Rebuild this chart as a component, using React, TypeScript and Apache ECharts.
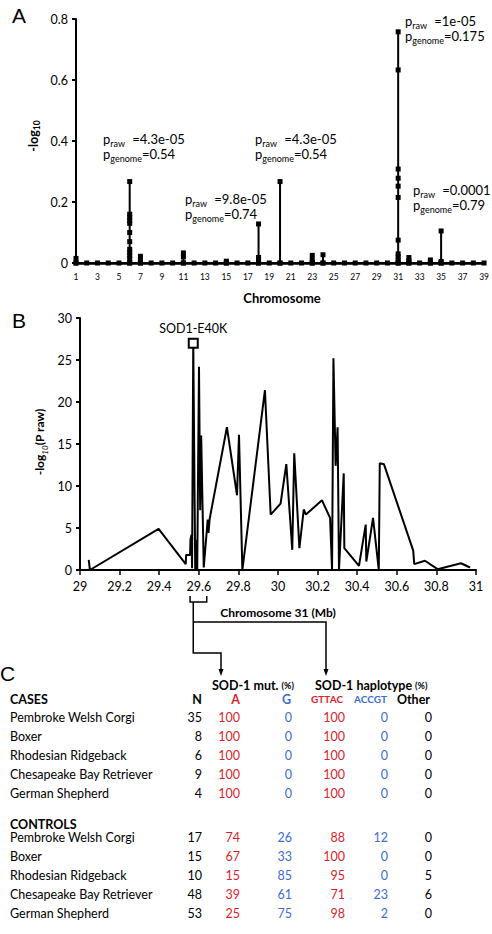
import React, { useEffect, useRef } from "react";
import * as echarts from "echarts";

// ---------------- Panel A data ----------------
const chromosomes = [
  1, 2, 3, 4, 5, 6, 7, 8, 9, 10, 11, 12, 13, 14, 15, 16, 17, 18, 19, 20,
  21, 22, 23, 24, 25, 26, 27, 28, 29, 30, 31, 32, 33, 34, 35, 36, 37, 38, 39,
];
const peakChromosomes = [1, 6, 7, 11, 15, 18, 20, 23, 24, 31, 32, 34, 35];
const peakValues: number[][] = [
  [0.015],
  [0.015, 0.025, 0.035, 0.045, 0.07, 0.1, 0.13, 0.14, 0.15, 0.16, 0.267],
  [0.01, 0.022],
  [0.02, 0.033],
  [0.006],
  [0.01, 0.018, 0.128],
  [0.267],
  [0.01, 0.025],
  [0.027],
  [0.01, 0.02, 0.03, 0.075, 0.215, 0.252, 0.278, 0.308, 0.633, 0.758],
  [0.008, 0.018],
  [0.01],
  [0.005, 0.105],
];
const annotationRaw = ["4.3e-05", "9.8e-05", "4.3e-05", "1e-05", "0.0001"];
const annotationGenome = ["0.54", "0.74", "0.54", "0.175", "0.79"];

// ---------------- Panel B data ----------------
const chr31Mb = [
  29.044, 29.05, 29.397, 29.534, 29.536, 29.556, 29.558, 29.563, 29.566, 29.572,
  29.582, 29.588, 29.592, 29.601, 29.607, 29.612, 29.625, 29.645, 29.649, 29.655,
  29.742, 29.793, 29.803, 29.82, 29.934, 29.963, 30.013, 30.042, 30.072, 30.082,
  30.108, 30.13, 30.141, 30.222, 30.263, 30.273, 30.28, 30.291, 30.301, 30.308,
  30.332, 30.335, 30.409, 30.443, 30.446, 30.48, 30.509, 30.514, 30.535, 30.683,
  30.688, 30.742, 30.806, 30.924, 30.97,
];
const chr31NegLogP = [
  1.2, 0, 4.9, 0.7, 1.8, 1.8, 3.6, 4.2, 0.2, 27.0,
  0, 3.6, 0, 24.2, 7.1, 16.0, 0.3, 6.0, 4.4, 6.1,
  17.0, 8.9, 16.1, 0, 21.4, 6.6, 7.9, 12.6, 2.4, 13.9,
  2.6, 7.2, 6.6, 8.3, 6.2, 0, 25.2, 12.4, 17.0, 0,
  11.5, 2.6, 0.5, 5.4, 1.0, 6.2, 0, 12.7, 12.6, 2.3,
  0.7, 1.1, 0.1, 0.8, 0.3,
];
const sod1Label = "SOD1-E40K";
const sod1Mb = 29.572;
const sod1Value = 27.0;
const bracketStartMb = 29.556;
const bracketEndMb = 29.64;

// ---------------- Panel C data ----------------
const breeds = [
  "Pembroke Welsh Corgi",
  "Boxer",
  "Rhodesian Ridgeback",
  "Chesapeake Bay Retriever",
  "German Shepherd",
];
const columnHeaders = ["N", "A", "G", "GTTAC", "ACCGT", "Other"];
const casesN = [35, 8, 6, 9, 4];
const casesA = [100, 100, 100, 100, 100];
const casesG = [0, 0, 0, 0, 0];
const casesGTTAC = [100, 100, 100, 100, 100];
const casesACCGT = [0, 0, 0, 0, 0];
const casesOther = [0, 0, 0, 0, 0];
const controlsN = [17, 15, 10, 48, 53];
const controlsA = [74, 67, 15, 39, 25];
const controlsG = [26, 33, 85, 61, 75];
const controlsGTTAC = [88, 100, 95, 71, 98];
const controlsACCGT = [12, 0, 0, 23, 2];
const controlsOther = [0, 0, 5, 6, 0];

// ---------------- Styling / layout ----------------
const FONT = "Lato, 'Open Sans', sans-serif";
const PANEL_FONT = "'Liberation Sans', Arial, sans-serif";
const RED = "#dc1e2a";
const BLUE = "#3d6bd6";
const colColors = ["#000", RED, BLUE, RED, BLUE, "#000"];
const colRight = [202, 240, 292, 345, 388, 432];
const headerRight = [202, 240, 291, 343, 387, 430];
const annPos = [
  [103, 140],
  [185, 200],
  [255, 140],
  [405, 22],
  [413, 191],
];

const subRich = {
  p: { fontSize: 13, lineHeight: 16, verticalAlign: "top", fontFamily: FONT },
  r: { fontSize: 9, lineHeight: 10, verticalAlign: "bottom", fontFamily: FONT, width: 22 },
  g: { fontSize: 9, lineHeight: 10, verticalAlign: "bottom", fontFamily: FONT },
};

function buildOption() {
  const seriesA: number[][] = [];
  chromosomes.forEach((c) => {
    seriesA.push([c, 0]);
    const idx = peakChromosomes.indexOf(c);
    if (idx >= 0) {
      peakValues[idx].forEach((v) => seriesA.push([c, v]));
      seriesA.push([c, 0]);
    }
  });
  const seriesB = chr31Mb.map((x, i) => [x, chr31NegLogP[i]]);

  const axisText = { color: "#000", fontFamily: FONT };
  return {
    animation: false,
    backgroundColor: "#fff",
    grid: [
      { left: 76, top: 19, width: 411, height: 244 },
      { left: 80, top: 318, width: 396, height: 252 },
    ],
    xAxis: [
      {
        type: "value",
        gridIndex: 0,
        min: 1,
        max: 39,
        interval: 2,
        axisLine: { show: true, lineStyle: { color: "#000", width: 2.5 } },
        axisTick: { show: false },
        splitLine: { show: false },
        axisLabel: { ...axisText, fontSize: 8.5, margin: 9 },
      },
      {
        type: "value",
        gridIndex: 1,
        min: 29,
        max: 31,
        interval: 0.2,
        axisLine: { show: true, lineStyle: { color: "#000", width: 2 } },
        axisTick: { show: true, length: 5, lineStyle: { color: "#000", width: 1.5 } },
        splitLine: { show: false },
        axisLabel: {
          ...axisText,
          fontSize: 12.5,
          margin: 10,
          formatter: (v: number) => String(Number(v.toFixed(1))),
        },
      },
    ],
    yAxis: [
      {
        type: "value",
        gridIndex: 0,
        min: 0,
        max: 0.8,
        interval: 0.2,
        axisLine: { show: true, lineStyle: { color: "#000", width: 2 } },
        axisTick: { show: true, length: 4, lineStyle: { color: "#000", width: 2 } },
        splitLine: { show: false },
        axisLabel: { ...axisText, fontSize: 12.5, margin: 8 },
      },
      {
        type: "value",
        gridIndex: 1,
        min: 0,
        max: 30,
        interval: 5,
        axisLine: { show: true, lineStyle: { color: "#000", width: 2 } },
        axisTick: { show: true, length: 4, lineStyle: { color: "#000", width: 2 } },
        splitLine: { show: false },
        axisLabel: { ...axisText, fontSize: 12.5, margin: 8 },
      },
    ],
    series: [
      {
        type: "line",
        xAxisIndex: 0,
        yAxisIndex: 0,
        data: seriesA,
        symbol: "rect",
        symbolSize: 5,
        showSymbol: true,
        clip: false,
        lineStyle: { color: "#000", width: 2 },
        itemStyle: { color: "#000" },
        z: 3,
      },
      {
        type: "line",
        xAxisIndex: 1,
        yAxisIndex: 1,
        data: seriesB,
        symbol: "none",
        showSymbol: false,
        clip: false,
        lineStyle: { color: "#000", width: 2 },
        z: 3,
      },
      {
        type: "scatter",
        xAxisIndex: 1,
        yAxisIndex: 1,
        data: [[sod1Mb, sod1Value]],
        symbol: "rect",
        symbolSize: 9,
        itemStyle: { color: "#fff", borderColor: "#000", borderWidth: 2, opacity: 1 },
        label: {
          show: true,
          position: "top",
          distance: 3,
          formatter: sod1Label,
          fontSize: 12.5,
          color: "#000",
          fontFamily: FONT,
        },
        z: 5,
      },
    ],
  };
}

function txt(x: number, y: number, text: string, extra: any = {}) {
  return {
    type: "text",
    x,
    y,
    silent: true,
    style: {
      text,
      fill: "#000",
      fontFamily: FONT,
      fontSize: 12.5,
      align: "left",
      verticalAlign: "middle",
      ...extra,
    },
  };
}

function buildGraphics(bx0: number, bx1: number, stemX: number) {
  const g: any[] = [];
  // panel letters
  g.push(txt(12, 15, "A", { fontFamily: PANEL_FONT, fontSize: 21 }));
  g.push(txt(12, 320, "B", { fontFamily: PANEL_FONT, fontSize: 21 }));
  g.push(txt(0, 673, "C", { fontFamily: PANEL_FONT, fontSize: 21 }));

  // panel A annotations
  annPos.forEach(([x, y], i) => {
    g.push(
      txt(x, y, `{p|p}{r|raw}{p|=${annotationRaw[i]}}`, { rich: subRich })
    );
    g.push(
      txt(x, y + 15, `{p|p}{g|genome}{p|=${annotationGenome[i]}}`, { rich: subRich })
    );
  });

  // axis titles
  g.push({
    type: "text",
    x: 34,
    y: 136,
    rotation: Math.PI / 2,
    silent: true,
    style: {
      text: "{m|-log}{s|10}",
      align: "center",
      verticalAlign: "middle",
      fill: "#000",
      rich: {
        m: { fontSize: 12.5, fontWeight: "bold", lineHeight: 15, verticalAlign: "top", fontFamily: FONT },
        s: { fontSize: 8.5, fontWeight: "bold", lineHeight: 10, verticalAlign: "bottom", fontFamily: FONT },
      },
    },
  });
  g.push(txt(282, 298, "Chromosome", { fontWeight: "bold", fontSize: 13, align: "center" }));
  g.push({
    type: "text",
    x: 41,
    y: 442,
    rotation: Math.PI / 2,
    silent: true,
    style: {
      text: "{m|-log}{s|10}{m|(P raw)}",
      align: "center",
      verticalAlign: "middle",
      fill: "#000",
      rich: {
        m: { fontSize: 12, fontWeight: "bold", lineHeight: 15, verticalAlign: "top", fontFamily: FONT },
        s: { fontSize: 8, fontStyle: "italic", lineHeight: 10, verticalAlign: "bottom", fontFamily: FONT },
      },
    },
  });
  g.push(txt(278, 612, "Chromosome 31 (Mb)", { fontWeight: "bold", fontSize: 12, align: "center" }));

  // bracket and arrows
  const ls = { stroke: "#000", lineWidth: 1.5, fill: "none" };
  g.push({
    type: "polyline",
    silent: true,
    shape: { points: [[bx0, 596], [bx0, 602], [bx1, 602], [bx1, 596]] },
    style: ls,
  });
  const arrowL = 221;
  const arrowR = 326;
  g.push({
    type: "polyline",
    silent: true,
    shape: { points: [[stemX, 602], [stemX, 653], [arrowL, 653], [arrowL, 670]] },
    style: ls,
  });
  g.push({
    type: "polyline",
    silent: true,
    shape: { points: [[stemX, 622], [arrowR, 622], [arrowR, 670]] },
    style: ls,
  });
  [arrowL, arrowR].forEach((ax) => {
    g.push({
      type: "polygon",
      silent: true,
      shape: { points: [[ax - 2.5, 669], [ax + 2.5, 669], [ax, 676]] },
      style: { fill: "#000" },
    });
  });

  // panel C table
  const supRich = {
    b: { fontSize: 12.5, fontWeight: "bold", fontFamily: FONT },
    sm: { fontSize: 9, fontWeight: "bold", fontFamily: FONT },
  };
  g.push(txt(212, 685, "{b|SOD-1 mut. }{sm|(%)}", { rich: supRich }));
  g.push(txt(315, 685, "{b|SOD-1 haplotype }{sm|(%)}", { rich: supRich }));

  const headerY = 699;
  g.push(txt(10, headerY, "CASES", { fontWeight: "bold" }));
  columnHeaders.forEach((h, i) => {
    const small = h === "GTTAC" || h === "ACCGT";
    g.push(
      txt(headerRight[i], headerY, h, {
        fontWeight: "bold",
        fill: colColors[i],
        align: "right",
        fontSize: small ? 10 : 12.5,
      })
    );
  });

  const caseRowsY = [717.5, 736, 755, 774, 793];
  const caseCols = [casesN, casesA, casesG, casesGTTAC, casesACCGT, casesOther];
  breeds.forEach((b, r) => {
    g.push(txt(10, caseRowsY[r], b));
    caseCols.forEach((col, c) => {
      g.push(txt(colRight[c], caseRowsY[r], String(col[r]), { align: "right", fill: colColors[c] }));
    });
  });

  g.push(txt(10, 824, "CONTROLS", { fontWeight: "bold" }));
  const ctrlRowsY = [837.5, 856, 875, 894, 913];
  const ctrlCols = [controlsN, controlsA, controlsG, controlsGTTAC, controlsACCGT, controlsOther];
  breeds.forEach((b, r) => {
    g.push(txt(10, ctrlRowsY[r], b));
    ctrlCols.forEach((col, c) => {
      g.push(txt(colRight[c], ctrlRowsY[r], String(col[r]), { align: "right", fill: colColors[c] }));
    });
  });
  return g;
}

export default function App() {
  const ref = useRef<HTMLDivElement>(null);
  useEffect(() => {
    document.body.style.margin = "0";
    const chart = echarts.init(ref.current!, null, { renderer: "svg" });
    chart.setOption(buildOption() as any);
    const px = (v: number) =>
      (chart.convertToPixel({ gridIndex: 1 } as any, [v, 0]) as number[])[0];
    chart.setOption({
      graphic: buildGraphics(px(bracketStartMb), px(bracketEndMb), px(sod1Mb)),
    } as any);
    return () => chart.dispose();
  }, []);
  return <div ref={ref} style={{ width: 492, height: 934 }} />;
}
